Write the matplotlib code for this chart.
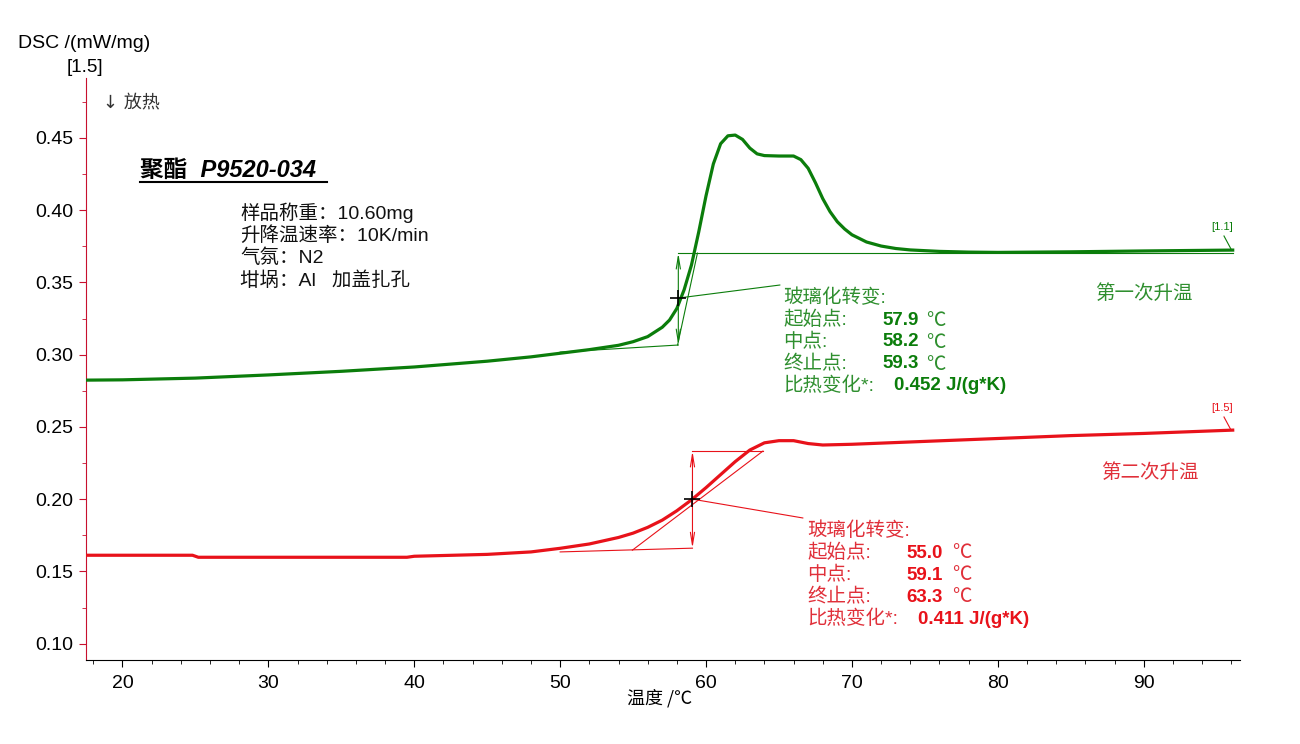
import matplotlib
matplotlib.use("Agg")
import matplotlib.pyplot as plt
from matplotlib.lines import Line2D
from matplotlib.ticker import MultipleLocator

plt.rcParams['font.family'] = ['Liberation Sans', 'Noto Sans CJK SC', 'DejaVu Sans']

# ---------------- data ----------------
t_first = [17.6, 20, 25, 30, 35, 40, 45, 48, 50, 52, 54, 55, 56, 57, 57.5, 58, 58.5,
           59, 59.5, 60, 60.5, 61, 61.5, 62, 62.5, 63, 63.5, 64, 65, 66, 66.5, 67,
           67.5, 68, 68.5, 69, 69.5, 70, 71, 72, 73, 74, 76, 78, 80, 85, 90, 96.1]
dsc_first = [0.2824, 0.2826, 0.2838, 0.2860, 0.2885, 0.2915, 0.2955, 0.2985, 0.3010,
             0.3035, 0.3065, 0.3090, 0.3125, 0.3190, 0.3240, 0.3320, 0.3450, 0.3620,
             0.3850, 0.4100, 0.4320, 0.4460, 0.4515, 0.4520, 0.4490, 0.4430, 0.4390,
             0.4378, 0.4375, 0.4375, 0.4350, 0.4290, 0.4190, 0.4080, 0.3990, 0.3920,
             0.3870, 0.3830, 0.3780, 0.3752, 0.3735, 0.3725, 0.3715, 0.3710, 0.3708,
             0.3712, 0.3718, 0.3724]

t_second = [17.6, 24.8, 25.2, 39.5, 40, 45, 48, 50, 52, 54, 55, 56, 57, 58, 59, 60,
            61, 62, 63, 64, 65, 66, 67, 68, 70, 75, 80, 85, 90, 96.1]
dsc_second = [0.1612, 0.1612, 0.1598, 0.1598, 0.1605, 0.1618, 0.1635, 0.1660, 0.1690,
              0.1735, 0.1765, 0.1805, 0.1855, 0.1920, 0.1995, 0.2080, 0.2170, 0.2260,
              0.2340, 0.2390, 0.2405, 0.2405, 0.2385, 0.2375, 0.2380, 0.2400, 0.2420,
              0.2440, 0.2455, 0.2478]

# Glass transition evaluation constructions (temperature, DSC)
g1_base_t = [50.0, 58.1]
g1_base_v = [0.3018, 0.3067]
g1_tan_t = [58.05, 59.41]
g1_tan_v = [0.3067, 0.3703]
g1_top_t = [58.1, 96.1]
g1_top_v = [0.3703, 0.3703]
g1_mid = (58.1, 0.3392)

g2_base_t = [50.0, 59.07]
g2_base_v = [0.1635, 0.1661]
g2_tan_t = [54.95, 63.9]
g2_tan_v = [0.1647, 0.2333]
g2_top_t = [59.07, 63.9]
g2_top_v = [0.2333, 0.2333]
g2_mid = (59.07, 0.2000)

labels_gt = ["玻璃化转变:", "起始点:", "中点:", "终止点:", "比热变化*:"]
vals_first = ["57.9", "58.2", "59.3", "0.452"]
vals_second = ["55.0", "59.1", "63.3", "0.411"]

GREEN = '#0b7d0b'
GREEN_T = '#2f8f2f'
RED = '#e8121a'
RED_T = '#e0303a'

W, H = 1300, 744
fig = plt.figure(figsize=(13, 7.44), dpi=100)
ax = fig.add_axes([86 / W, 1 - 660 / H, (1240 - 86) / W, (660 - 78) / H])

def fx(x):
    return x / W

def fy(y):
    return 1 - y / H

ax.plot(t_first, dsc_first, color=GREEN, lw=2.3, solid_joinstyle='round', zorder=3)
ax.plot(t_second, dsc_second, color=RED, lw=2.3, solid_joinstyle='round', zorder=3)

# constructions
for bt, bv, tt, tv, pt, pv, mid, c in [
    (g1_base_t, g1_base_v, g1_tan_t, g1_tan_v, g1_top_t, g1_top_v, g1_mid, GREEN),
    (g2_base_t, g2_base_v, g2_tan_t, g2_tan_v, g2_top_t, g2_top_v, g2_mid, RED)]:
    ax.plot(bt, bv, color=c, lw=0.8, zorder=2)
    ax.plot(tt, tv, color=c, lw=0.8, zorder=2)
    ax.plot(pt, pv, color=c, lw=0.8, zorder=2)
    ax.annotate('', xy=(mid[0], pv[0]), xytext=(mid[0], bv[1]),
                arrowprops=dict(arrowstyle='<->,head_length=0.9,head_width=0.15',
                                color=c, lw=0.8, shrinkA=0, shrinkB=0), zorder=2)
    ax.plot([mid[0]], [mid[1]], marker='+', color='black', ms=12, mew=1.2, zorder=4)

# leader lines from midpoint to text blocks
ax.annotate('', xy=g1_mid, xytext=(fx(780), fy(285)), textcoords='figure fraction',
            arrowprops=dict(arrowstyle='-', color=GREEN, lw=0.8, shrinkA=0, shrinkB=0))
ax.annotate('', xy=g2_mid, xytext=(fx(803), fy(518)), textcoords='figure fraction',
            arrowprops=dict(arrowstyle='-', color=RED, lw=0.8, shrinkA=0, shrinkB=0))

ax.set_xlim(17.5, 96.6)
ax.set_ylim(0.0887, 0.4915)
ax.xaxis.set_major_locator(MultipleLocator(10))
ax.xaxis.set_minor_locator(MultipleLocator(2))
ax.yaxis.set_major_locator(MultipleLocator(0.05))
ax.yaxis.set_minor_locator(MultipleLocator(0.025))
ax.yaxis.set_major_formatter(matplotlib.ticker.FormatStrFormatter('%.2f'))
for s in ['top', 'right']:
    ax.spines[s].set_visible(False)
ax.spines['left'].set_color('#c8102e')
ax.spines['bottom'].set_color('black')
ax.tick_params(axis='both', which='major', direction='out', length=5, labelsize=14)
ax.tick_params(axis='both', which='minor', direction='out', length=3)
ax.tick_params(axis='y', which='both', color='#c8102e', pad=4)
ax.tick_params(axis='x', which='both', color='black', pad=6)

# axis texts
fig.text(fx(18), fy(44), 'DSC /(mW/mg)', fontsize=14, va='center', ha='left')
fig.text(fx(85), fy(67), '[1.5]', fontsize=13.5, va='center', ha='center')
fig.text(fx(103), fy(102), '↓ 放热', fontsize=13, va='center', ha='left', color='#333333',
         family=['DejaVu Sans', 'Noto Sans CJK SC'])
fig.text(fx(660), fy(698), '温度 /℃', fontsize=13, va='center', ha='center',
         family=['Noto Sans CJK SC', 'DejaVu Sans'])

# title with underline
fig.text(fx(140), fy(170), '聚酯  P9520-034', fontsize=17, fontweight='bold',
         fontstyle='italic', va='center', ha='left')
fig.add_artist(Line2D([fx(140), fx(327)], [fy(182), fy(182)], color='black', lw=1.5))

info = ["样品称重：10.60mg", "升降温速率：10K/min", "气氛：N2", "坩埚：Al   加盖扎孔"]
for i, s in enumerate(info):
    fig.text(fx(240), fy(213 + 22.6 * i), s, fontsize=14, va='center', ha='left',
             color='#111111')

# green result block
ys1 = [298, 320, 342, 364, 386]
for i, s in enumerate(labels_gt):
    fig.text(fx(783), fy(ys1[i]), s, fontsize=14, va='center', ha='left', color=GREEN_T)
for i, v in enumerate(vals_first[:3]):
    fig.text(fx(882), fy(ys1[i + 1]), v, fontsize=13.5, va='center', ha='left',
             color=GREEN, fontweight='bold')
    fig.text(fx(926), fy(ys1[i + 1]), '℃', fontsize=14, va='center', ha='left',
             color=GREEN_T, family=['Noto Sans CJK SC'])
fig.text(fx(894), fy(ys1[4]), vals_first[3] + ' J/(g*K)', fontsize=13.5, va='center',
         ha='left', color=GREEN, fontweight='bold')

# red result block
ys2 = [531, 553, 575, 597, 619]
for i, s in enumerate(labels_gt):
    fig.text(fx(807), fy(ys2[i]), s, fontsize=14, va='center', ha='left', color=RED_T)
for i, v in enumerate(vals_second[:3]):
    fig.text(fx(906), fy(ys2[i + 1]), v, fontsize=13.5, va='center', ha='left',
             color=RED, fontweight='bold')
    fig.text(fx(952), fy(ys2[i + 1]), '℃', fontsize=14, va='center', ha='left',
             color=RED_T, family=['Noto Sans CJK SC'])
fig.text(fx(918), fy(ys2[4]), vals_second[3] + ' J/(g*K)', fontsize=13.5, va='center',
         ha='left', color=RED, fontweight='bold')

fig.text(fx(1144), fy(294), '第一次升温', fontsize=14, va='center', ha='center', color=GREEN_T)
fig.text(fx(1150), fy(473), '第二次升温', fontsize=14, va='center', ha='center', color=RED_T)

# curve end markers
fig.text(fx(1222), fy(227), '[1.1]', fontsize=8, va='center', ha='center', color=GREEN)
fig.add_artist(Line2D([fx(1224), fx(1231)], [fy(236), fy(249)], color=GREEN, lw=0.8))
fig.text(fx(1222), fy(408), '[1.5]', fontsize=8, va='center', ha='center', color=RED)
fig.add_artist(Line2D([fx(1224), fx(1231)], [fy(417), fy(430)], color=RED, lw=0.8))

fig.savefig('out.png', dpi=100)
